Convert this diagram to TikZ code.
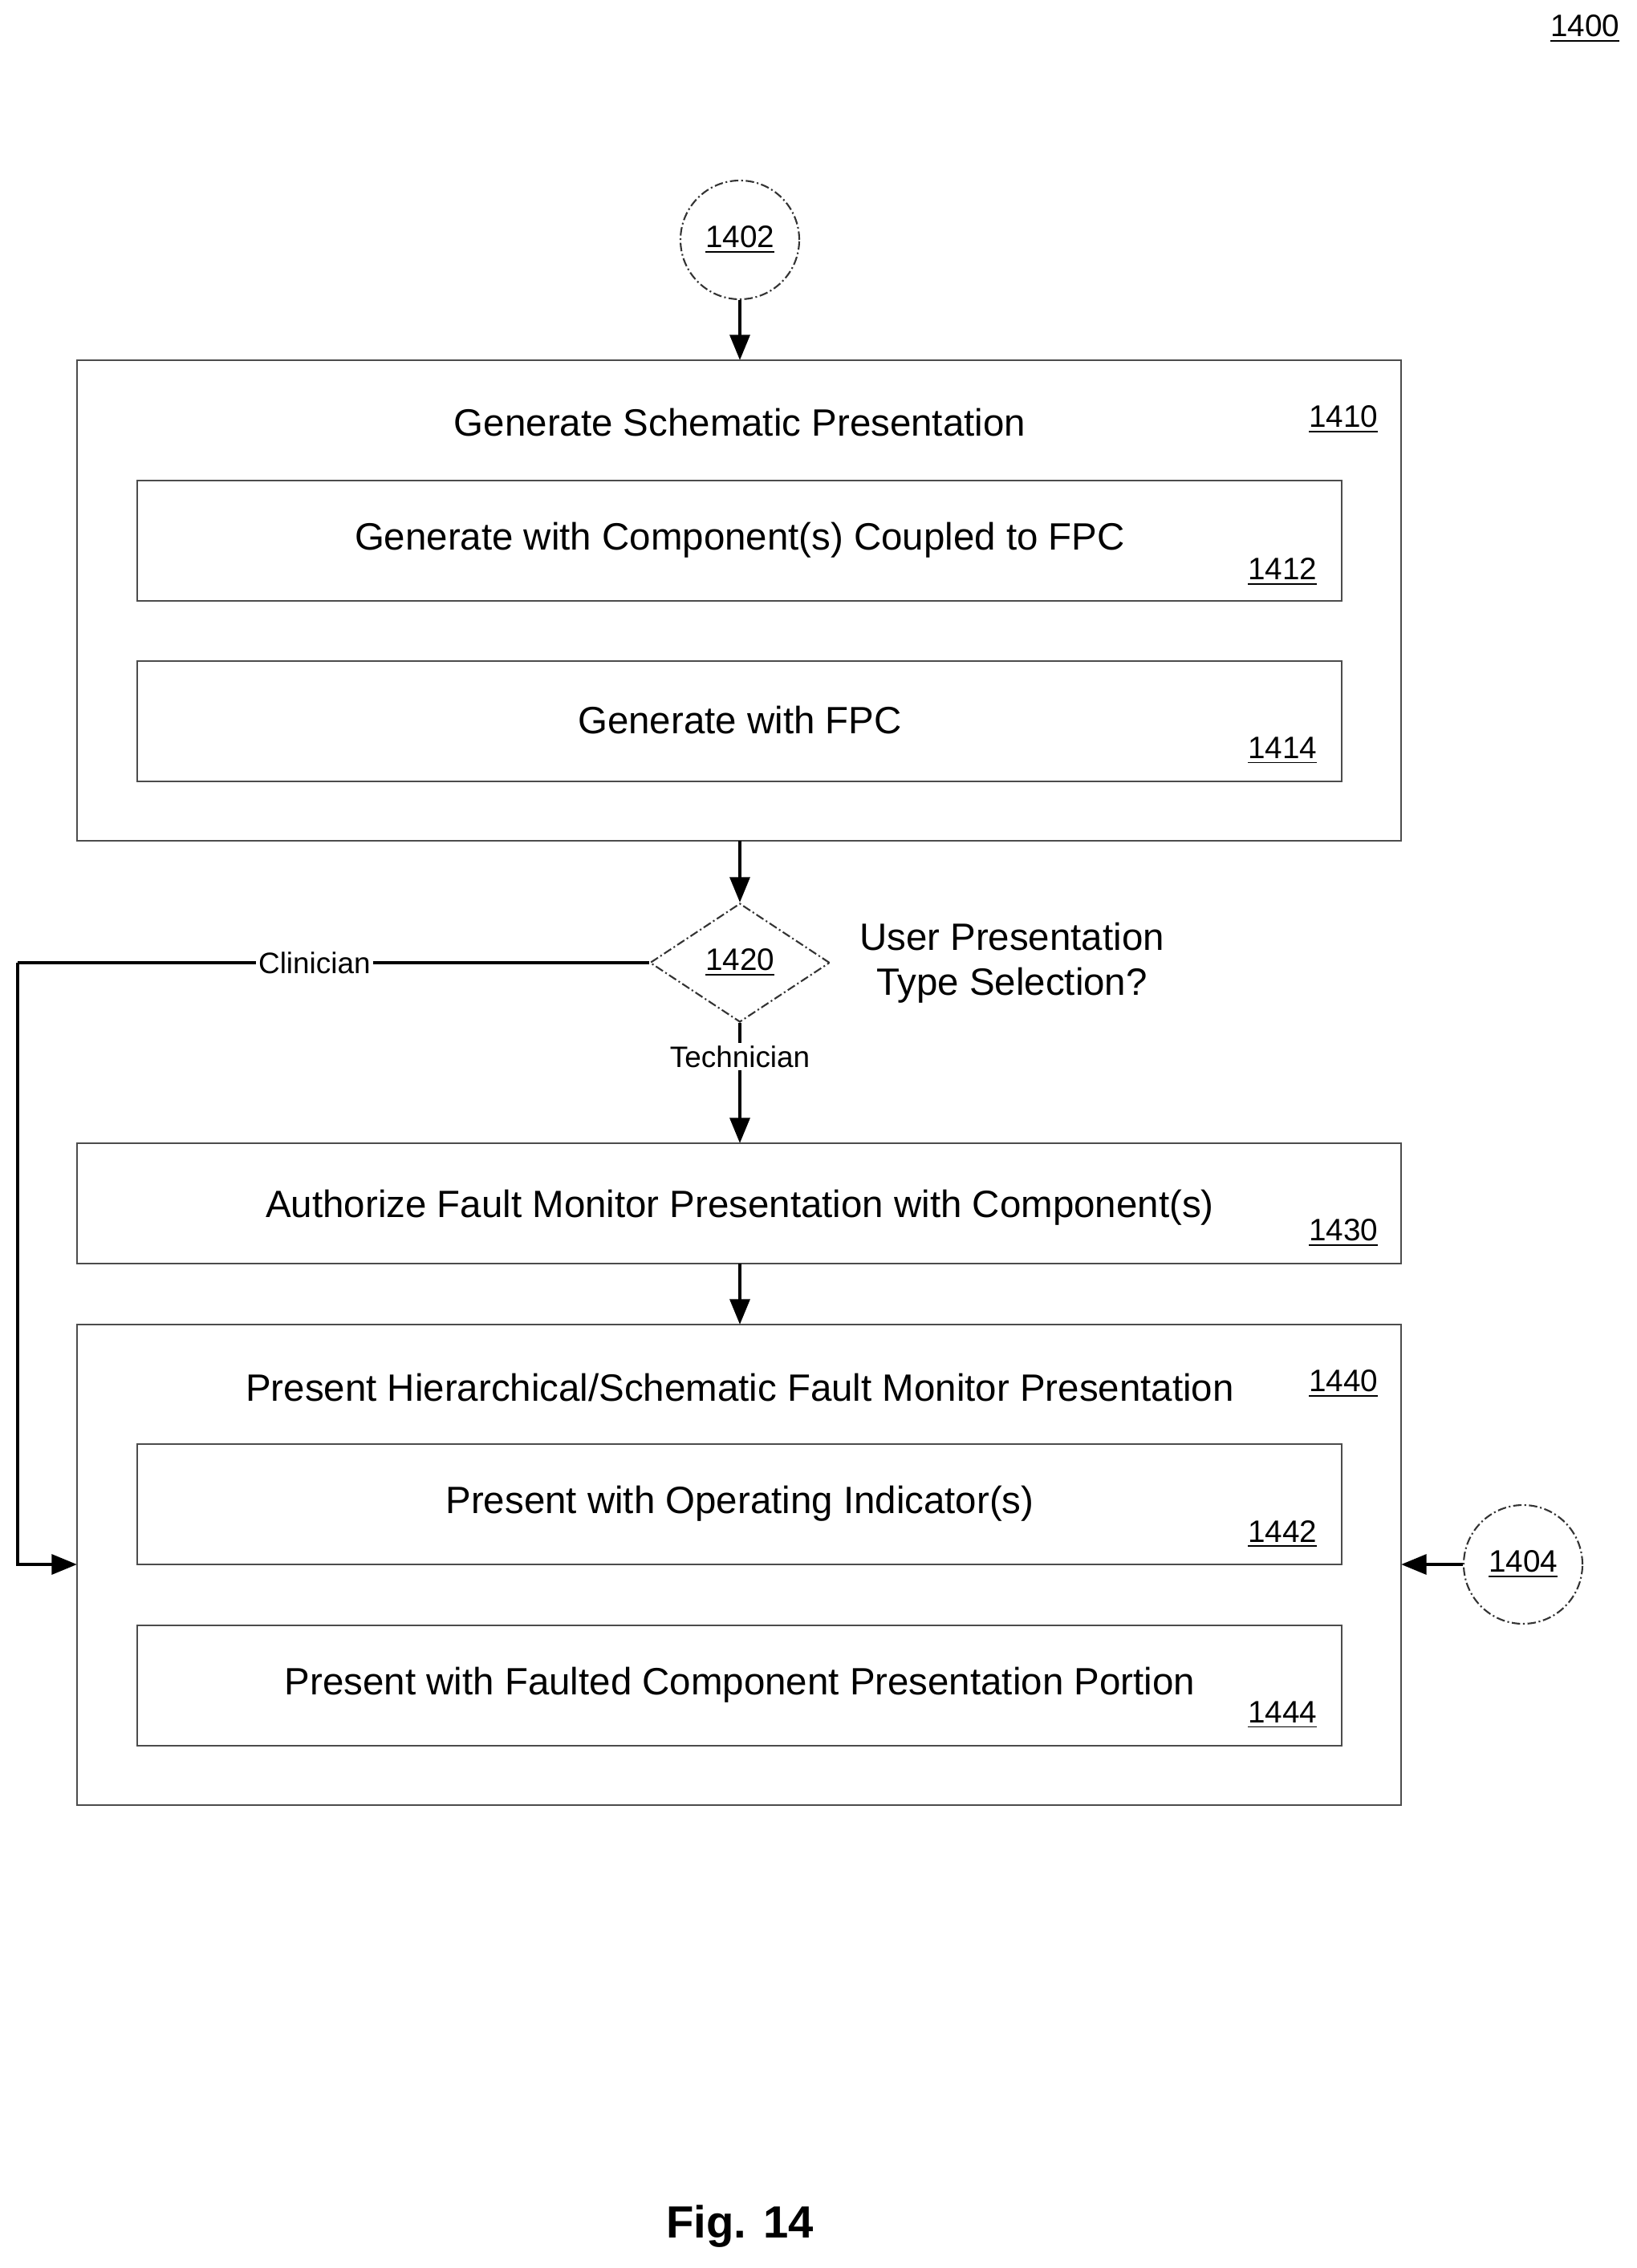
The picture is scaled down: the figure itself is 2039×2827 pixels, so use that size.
\documentclass[tikz,border=0pt]{standalone}
\usepackage{fontspec}
\setmainfont{Liberation Sans}
\usetikzlibrary{arrows.meta,shapes.geometric}
\begin{document}
\begin{tikzpicture}[x=0.1mm,y=-0.1mm,
  box/.style={draw=black!70,line width=0.5pt},
  txt/.style={font=\fontsize{13.5}{16}\selectfont},
  num/.style={font=\fontsize{11}{13}\selectfont},
  lbl/.style={font=\fontsize{10.5}{12}\selectfont,fill=white,inner sep=1pt},
  arr/.style={line width=1.3pt,-{Triangle[length=9pt,width=7pt]}},
  conn/.style={draw=black!80,line width=0.6pt,dash pattern=on 3pt off 1pt on 0.6pt off 1pt,circle,minimum size=148*0.1mm,inner sep=0pt}]
\useasboundingbox (0,0) rectangle (2039,2827);
\node[num] (n1400) at (1975,36) {\underline{1400}};
\node[conn,num] (c1402) at (922,299) {\underline{1402}};
\node[conn,num] (c1404) at (1898,1950) {\underline{1404}};
% 1410
\draw[box] (96,449) rectangle (1746,1048);
\coordinate (b1410t) at (922,449); \coordinate (b1410b) at (922,1048);
\node[txt] (t1410) at (922,527) {Generate Schematic Presentation};
\node[num] (l1410) at (1674,523) {\underline{1410}};
\draw[box] (171,599) rectangle (1672,749);
\node[txt] (t1412) at (922,673) {Generate with Component(s) Coupled to FPC};
\node[num] (l1412) at (1598,713) {\underline{1412}};
\draw[box] (171,824) rectangle (1672,974);
\node[txt] (t1414) at (922,898) {Generate with FPC};
\node[num] (l1414) at (1598,936) {\underline{1414}};
% diamond
\node[draw=black!80,line width=0.6pt,dash pattern=on 3pt off 1pt on 0.6pt off 1pt,diamond,aspect=1.51,minimum width=224*0.1mm,minimum height=148*0.1mm,inner sep=0pt,num] (d1420) at (922,1200) {\underline{1420}};
\node[txt,align=center] (q1420) at (1261,1200) {User Presentation\\Type Selection?};
% 1430
\draw[box] (96,1425) rectangle (1746,1575);
\coordinate (b1430t) at (922,1425); \coordinate (b1430b) at (922,1575);
\node[txt] (t1430) at (922,1505) {Authorize Fault Monitor Presentation with Component(s)};
\node[num] (l1430) at (1674,1537) {\underline{1430}};
% 1440
\draw[box] (96,1651) rectangle (1746,2250);
\coordinate (b1440t) at (922,1651); \coordinate (b1440l) at (96,1950); \coordinate (b1440r) at (1746,1950);
\node[txt] (t1440) at (922,1730) {Present Hierarchical/Schematic Fault Monitor Presentation};
\node[num] (l1440) at (1674,1725) {\underline{1440}};
\draw[box] (171,1800) rectangle (1672,1950);
\node[txt] (t1442) at (922,1874) {Present with Operating Indicator(s)};
\node[num] (l1442) at (1598,1912) {\underline{1442}};
\draw[box] (171,2026) rectangle (1672,2176);
\node[txt] (t1444) at (922,2100) {Present with Faulted Component Presentation Portion};
\node[num] (l1444) at (1598,2138) {\underline{1444}};
% connectors
\draw[arr] (c1402) -- (b1410t);
\draw[arr] (b1410b) -- (d1420.north);
\draw[arr] (d1420.south) -- node[lbl,pos=0.28] (tech) {Technician} (b1430t);
\draw[arr] (b1430b) -- (b1440t);
\coordinate (cc) at (22,1200);
\draw[line width=1.3pt] (d1420.west) -- node[lbl,pos=0.53] (clin) {Clinician} (cc);
\draw[line width=1.3pt,-{Triangle[length=9pt,width=7pt]}] (cc) |- (b1440l);
\draw[arr] (c1404) -- (b1440r);
\node[font=\bfseries\fontsize{16}{19}\selectfont] (fig) at (922,2775) {Fig. 14};
\end{tikzpicture}
\end{document}
